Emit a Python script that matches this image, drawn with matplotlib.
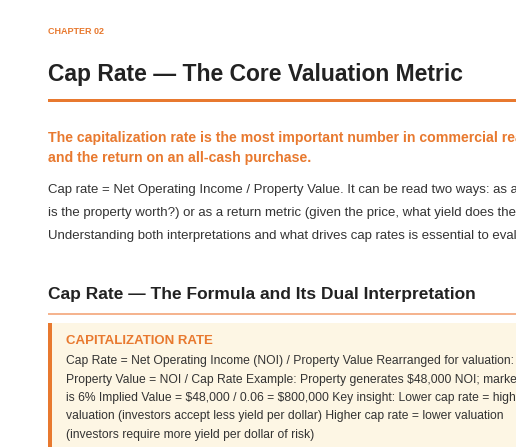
import matplotlib
matplotlib.use("Agg")
import matplotlib.pyplot as plt
from matplotlib.patches import Rectangle

W, H = 516, 447
ORANGE = "#e8792f"
chapter = "CHAPTER 02"
title = "Cap Rate — The Core Valuation Metric"
lead = ["The capitalization rate is the most important number in commercial real estate",
        "and the return on an all-cash purchase."]
body = ["Cap rate = Net Operating Income / Property Value. It can be read two ways: as a",
        "is the property worth?) or as a return metric (given the price, what yield does the",
        "Understanding both interpretations and what drives cap rates is essential to evaluate"]
heading = "Cap Rate — The Formula and Its Dual Interpretation"
box_title = "CAPITALIZATION RATE"
box_lines = ["Cap Rate = Net Operating Income (NOI) / Property Value Rearranged for valuation:",
             "Property Value = NOI / Cap Rate Example: Property generates $48,000 NOI; market cap rate",
             "is 6% Implied Value = $48,000 / 0.06 = $800,000 Key insight: Lower cap rate = higher",
             "valuation (investors accept less yield per dollar) Higher cap rate = lower valuation",
             "(investors require more yield per dollar of risk)"]

plt.rcParams['font.family'] = ['Liberation Sans', 'DejaVu Sans']
plt.rcParams['text.parse_math'] = False
fig = plt.figure(figsize=(W/100, H/100), dpi=100)
fig.patch.set_facecolor("white")

def T(x, y, s, **kw):
    fig.text(x/W, 1 - y/H, s, va="center", ha="left", parse_math=False, **kw)

def R(x, y, w, h, c):
    fig.patches.append(Rectangle((x/W, 1-(y+h)/H), w/W, h/H, transform=fig.transFigure,
                                 facecolor=c, edgecolor="none"))

T(48, 31, chapter, fontsize=6.5, fontweight="bold", color=ORANGE)
T(48, 75, title, fontsize=16.5, fontweight="bold", color="#222222")
R(48, 99, 470, 3, ORANGE)
for i, s in enumerate(lead):
    T(48, 138 + i*20, s, fontsize=10.2, fontweight="bold", color=ORANGE)
for i, s in enumerate(body):
    T(48, 190 + i*23, s, fontsize=9.5, color="#333333")
T(48, 295, heading, fontsize=12.5, fontweight="bold", color="#222222")
R(48, 313, 470, 2, "#f5b48f")
R(48, 323, 470, 130, "#fdf6e4")
R(48, 323, 4, 130, ORANGE)
T(66, 341, box_title, fontsize=9.5, fontweight="bold", color=ORANGE)
for i, s in enumerate(box_lines):
    T(66, 361 + i*18.5, s, fontsize=8.7, color="#333333")

fig.savefig("out.png", dpi=100)
